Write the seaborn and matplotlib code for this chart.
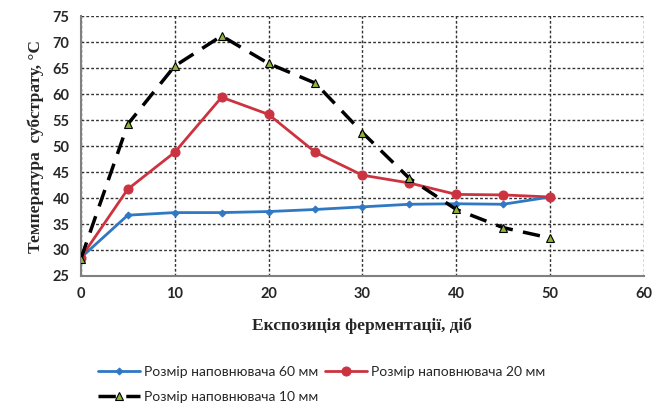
import numpy as np
import pandas as pd
import seaborn as sns
import matplotlib.pyplot as plt

# data
days = [0, 5, 10, 15, 20, 25, 30, 35, 40, 45, 50]
t_60mm = [28.5, 36.7, 37.2, 37.2, 37.4, 37.8, 38.3, 38.8, 38.9, 38.8, 40.2]
t_20mm = [28.5, 41.7, 48.8, 59.4, 56.1, 48.8, 44.4, 42.9, 40.7, 40.6, 40.2]
t_10mm = [28.3, 54.2, 65.4, 71.2, 65.9, 62.1, 52.6, 43.8, 37.8, 34.3, 32.3]
labels = ['Розмір наповнювача 60 мм', 'Розмір наповнювача 20 мм', 'Розмір наповнювача 10 мм']

sns.set_style('white')
plt.rcParams['font.family'] = ['Lato', 'DejaVu Sans']
plt.rcParams['xtick.major.pad'] = 8
plt.rcParams['ytick.major.pad'] = 8
plt.rcParams['xtick.labelsize'] = 10.5
plt.rcParams['ytick.labelsize'] = 10.5

fig = plt.figure(figsize=(6.68, 4.15), dpi=100)
ax = fig.add_axes([0.121, 0.335, 0.843, 0.626])

sns.lineplot(x=days, y=t_60mm, ax=ax, color='#2f78c4', lw=2, marker='D', ms=3.5,
             mec='#2f78c4', label=labels[0], zorder=3)
sns.lineplot(x=days, y=t_20mm, ax=ax, color='#cc3340', lw=2, marker='o', ms=6.5,
             mec='#cc3340', label=labels[1], zorder=4)
sns.lineplot(x=days, y=t_10mm, ax=ax, color='black', lw=2.5, marker='^', ms=5.5,
             mfc='#8fb43a', mec='black', mew=0.8, label=labels[2], zorder=5)
ax.lines[-1].set_dashes([5, 3])

ax.set_xlim(0, 60)
ax.set_ylim(25, 75)
ax.set_xticks(range(0, 61, 10))
ax.set_yticks(range(25, 76, 5))
ax.tick_params(length=0)
ax.set_axisbelow(True)
ax.grid(True, color='#333333', lw=1.0, ls=(0, (2, 1.5)))
for s in ['top', 'right']:
    ax.spines[s].set_visible(False)
for s in ['left', 'bottom']:
    ax.spines[s].set_color('#808080')
    ax.spines[s].set_linewidth(1.5)

for t in ax.get_xticklabels() + ax.get_yticklabels():
    t.set_fontweight('bold')

ax.set_xlabel('Експозиція ферментації, діб', family='Liberation Serif',
              fontweight='bold', fontsize=12.5, labelpad=12)
ax.set_ylabel('Температура  субстрату, °С', family='Liberation Serif',
              fontweight='bold', fontsize=12.5, labelpad=6)

h, l = ax.get_legend_handles_labels()
ax.get_legend().remove()
order = [0, 2, 1]
fig.legend([h[i] for i in order], [l[i] for i in order], ncol=2,
           loc='lower left', bbox_to_anchor=(0.128, 0.0), frameon=False,
           fontsize=10, handlelength=3.0, columnspacing=0.5, handletextpad=0.3,
           labelspacing=0.9)

fig.savefig('out.png', dpi=100)
